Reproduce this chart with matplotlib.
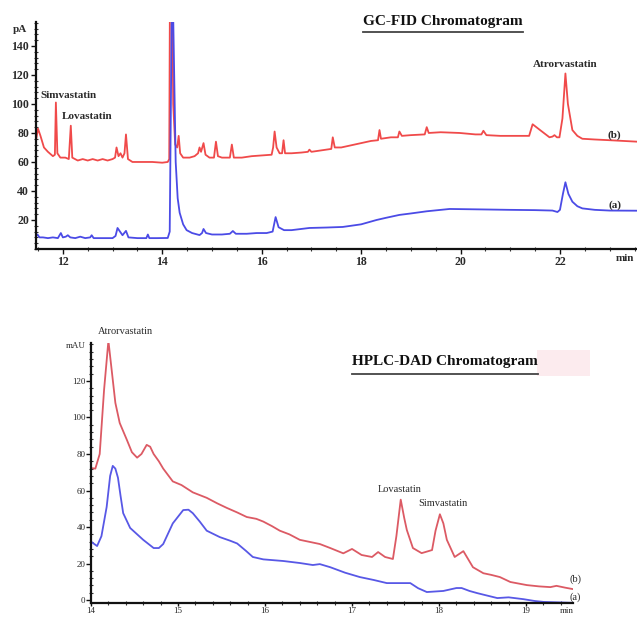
import matplotlib
matplotlib.use("Agg")
import matplotlib.pyplot as plt
from matplotlib.ticker import MultipleLocator
from matplotlib.lines import Line2D
from matplotlib.patches import Rectangle

plt.rcParams['font.family'] = ['Liberation Serif', 'DejaVu Serif']

# ---------------- GC-FID data ----------------
gc_t_b = [11.46, 11.50, 11.55, 11.62, 11.70, 11.80, 11.84, 11.86, 11.89, 11.95, 12.05, 12.12, 12.16, 12.19,
          12.30, 12.40, 12.50, 12.60, 12.70, 12.80, 12.90, 13.00, 13.05, 13.08, 13.12, 13.16, 13.20, 13.24,
          13.27, 13.31, 13.40, 13.60, 13.80, 14.00, 14.11, 14.14, 14.17, 14.22, 14.26, 14.30, 14.33, 14.36,
          14.42, 14.55, 14.65, 14.72, 14.75, 14.78, 14.83, 14.87, 14.95, 15.04, 15.08, 15.12, 15.20, 15.36,
          15.40, 15.44, 15.60, 15.80, 16.00, 16.20, 16.23, 16.26, 16.30, 16.36, 16.41, 16.44, 16.47, 16.60,
          16.80, 16.93, 16.96, 17.00, 17.20, 17.40, 17.43, 17.47, 17.60, 17.80, 18.00, 18.20, 18.34, 18.37,
          18.40, 18.60, 18.74, 18.77, 18.82, 19.00, 19.28, 19.32, 19.36, 19.60, 19.98, 20.30, 20.42, 20.46,
          20.52, 20.80, 21.10, 21.38, 21.45, 21.60, 21.79, 21.85, 21.89, 21.94, 21.99, 22.05, 22.11, 22.16,
          22.25, 22.35, 22.45, 22.70, 23.00, 23.55]
gc_b = [75, 83, 78, 70, 67, 64, 65, 101, 66, 63, 63, 62, 85, 63,
        61, 62, 61, 62, 61, 62, 61, 62, 63, 70, 64, 66, 63, 66,
        79, 62, 60, 60, 60, 59.5, 60, 62, 300, 100, 72, 70, 78, 66,
        63, 63, 64, 66, 70, 67, 73, 65, 63, 63, 74, 64, 63, 63,
        72, 63, 63, 64, 64.5, 65, 70, 81, 70, 66, 66, 75, 66, 66,
        66.5, 67, 68.5, 67, 68, 69, 77, 70, 70, 71.5, 73, 74.5, 75, 82,
        76, 77, 77, 81, 78, 78.5, 79, 84, 80, 80.5, 80, 79, 79, 81.5,
        78.5, 78, 78, 78, 86, 82, 77, 77.5, 78.5, 77, 77, 90, 121, 100,
        82, 78, 76, 75.5, 75, 74]

gc_t_a = [11.46, 11.49, 11.53, 11.60, 11.70, 11.80, 11.90, 11.96, 12.00, 12.06, 12.10, 12.15, 12.25, 12.35,
          12.45, 12.55, 12.58, 12.62, 12.80, 13.00, 13.06, 13.10, 13.15, 13.20, 13.27, 13.32, 13.50, 13.68,
          13.71, 13.74, 13.90, 14.11, 14.15, 14.20, 14.24, 14.27, 14.31, 14.35, 14.42, 14.49, 14.60, 14.75,
          14.80, 14.83, 14.88, 15.00, 15.20, 15.36, 15.42, 15.48, 15.70, 15.90, 16.10, 16.22, 16.28, 16.34,
          16.45, 16.60, 16.96, 17.30, 17.63, 18.00, 18.31, 18.50, 18.77, 19.00, 19.32, 19.78, 20.40, 20.98,
          21.50, 21.85, 21.95, 22.00, 22.06, 22.11, 22.17, 22.25, 22.35, 22.45, 22.70, 23.00, 23.55]
gc_a = [9, 10, 8, 8, 7.5, 8, 7.5, 11, 8, 8.5, 9.5, 8, 7.5, 8.5,
        7.5, 8, 9.5, 7.5, 7.5, 7.5, 9, 14.5, 12, 9.5, 12.5, 8, 7.5, 7.5,
        10, 7.5, 7.5, 7.6, 12, 200, 120, 60, 35, 25, 17, 13, 11, 9.6,
        11, 13.8, 11, 10, 10, 10.5, 12.4, 10.5, 10.5, 11, 11, 12, 22, 15,
        13, 13, 14.5, 14.8, 15.2, 17, 20, 21.5, 23.5, 24.5, 26, 27.6, 27.3, 27,
        26.8, 26.5, 25.5, 27, 38, 46, 38, 32.6, 29.5, 28, 27, 26.5, 26.4]

gc_xticks = [12, 14, 16, 18, 20, 22]
gc_yticks = [20, 40, 60, 80, 100, 120, 140]

# ---------------- HPLC-DAD data ----------------
lc_t_b = [14.00, 14.05, 14.10, 14.15, 14.20, 14.24, 14.28, 14.33, 14.41, 14.47, 14.53, 14.58, 14.64, 14.68,
          14.72, 14.78, 14.83, 14.94, 15.04, 15.17, 15.33, 15.45, 15.56, 15.68, 15.79, 15.90, 15.98, 16.08,
          16.17, 16.28, 16.40, 16.52, 16.63, 16.75, 16.90, 17.00, 17.11, 17.23, 17.30, 17.38, 17.47, 17.51,
          17.56, 17.60, 17.63, 17.70, 17.80, 17.92, 17.96, 18.01, 18.05, 18.09, 18.18, 18.28, 18.39, 18.51,
          18.60, 18.70, 18.82, 19.01, 19.15, 19.28, 19.35, 19.45, 19.54]
lc_b = [72.3, 72, 80, 115, 142, 125, 108, 97, 88, 81, 78, 80, 85, 84,
        80, 76, 72, 65, 63, 59, 56, 53, 50.5, 48, 45.5, 44.5, 43, 40.5,
        38, 36, 33, 31.8, 30.7, 28.5, 25.6, 28, 24.7, 23.6, 26.3, 23.6, 22.5, 35,
        55, 45, 38.4, 28.5, 25.7, 27.4, 38, 47, 42, 33, 23.6, 26.8, 18, 14.7,
        13.8, 12.6, 9.9, 8.2, 7.5, 7.1, 7.8, 6.8, 6.0]

lc_t_a = [14.00, 14.07, 14.12, 14.18, 14.22, 14.25, 14.28, 14.31, 14.34, 14.37, 14.45, 14.60, 14.72, 14.78,
          14.83, 14.94, 15.06, 15.12, 15.17, 15.25, 15.33, 15.48, 15.60, 15.68, 15.78, 15.86, 15.98, 16.21,
          16.40, 16.55, 16.63, 16.75, 16.92, 17.09, 17.25, 17.40, 17.67, 17.76, 17.86, 18.05, 18.20, 18.26,
          18.35, 18.44, 18.55, 18.67, 18.80, 18.97, 19.10, 19.20, 19.54]
lc_a = [32, 29.6, 35, 51, 68, 73.5, 72, 67, 57, 47.6, 39.5, 33, 28.5, 28.5,
        30.7, 42, 49.3, 49.5, 47.6, 43, 38, 34.5, 32.5, 31, 27, 23.6, 22.3, 21.4,
        20.3, 19.2, 19.7, 18, 15, 12.6, 11, 9.3, 9.3, 6.5, 4.4, 5, 6.6, 6.6,
        5, 3.8, 2.5, 1.1, 1.5, 0.5, -0.5, -1, -1.5]

lc_xticks = [14, 15, 16, 17, 18, 19]
lc_yticks = [0, 20, 40, 60, 80, 100, 120]

RED_TOP = '#f04a4a'
BLUE_TOP = '#4b4be6'
RED_BOT = '#dc5a64'
BLUE_BOT = '#5858e6'
TXT = '#2a2a2a'

fig = plt.figure(figsize=(6.37, 6.17), dpi=100)

def style_axes(ax, pad):
    for s in ['top', 'right']:
        ax.spines[s].set_visible(False)
    for s in ['left', 'bottom']:
        ax.spines[s].set_linewidth(1.6)
        ax.spines[s].set_color('#111111')
    ax.tick_params(which='major', direction='out', length=3.5, width=1.0, colors='#111111',
                   labelcolor=TXT, pad=pad)
    ax.tick_params(which='minor', direction='inout', length=3, width=0.8, colors='#333333')
    ax.set_facecolor('none')

# ---------------- Top: GC-FID ----------------
ax1 = fig.add_axes([36/637, 1-249/617, 601/637, (249-22)/617])
ax1.plot(gc_t_b, gc_b, color=RED_TOP, lw=1.3)
ax1.plot(gc_t_a, gc_a, color=BLUE_TOP, lw=1.3)
ax1.set_xlim(11.46, 23.55)
ax1.set_ylim(0, 156.5)
ax1.set_xticks(gc_xticks)
ax1.set_yticks(gc_yticks)
ax1.xaxis.set_minor_locator(MultipleLocator(0.5))
ax1.yaxis.set_minor_locator(MultipleLocator(4))
style_axes(ax1, 1.5)
for lab in ax1.get_xticklabels() + ax1.get_yticklabels():
    lab.set_fontsize(8.5)
    lab.set_fontweight('bold')

tk = dict(fontsize=8, color=TXT, fontweight='bold')
ax1.text(11.55, 102.5, 'Simvastatin', ha='left', va='bottom', **tk)
ax1.text(11.98, 88, 'Lovastatin', ha='left', va='bottom', **tk)
ax1.text(22.1, 124, 'Atrorvastatin', ha='center', va='bottom', **tk)
ax1.text(23.10, 78.5, '(b)', ha='center', va='center', **tk)
ax1.text(23.10, 30.5, '(a)', ha='center', va='center', **tk)
fig.text(20/637, 1-30/617, 'pA', ha='center', va='center', **tk)
fig.text(625/637, 1-258/617, 'min', ha='center', va='center', **tk)

t1 = fig.text(443/637, 1-22/617, 'GC-FID Chromatogram', ha='center', va='center',
              fontsize=11, fontweight='bold', color='#111111')

# ---------------- Bottom: HPLC-DAD ----------------
ax2 = fig.add_axes([91/637, 1-603/617, 482/637, (603-343)/617])
ax2.plot(lc_t_b, lc_b, color=RED_BOT, lw=1.3)
ax2.plot(lc_t_a, lc_a, color=BLUE_BOT, lw=1.3)
ax2.set_xlim(14.0, 19.54)
ax2.set_ylim(-1.6, 140.8)
ax2.set_xticks(lc_xticks)
ax2.set_yticks(lc_yticks)
ax2.xaxis.set_minor_locator(MultipleLocator(0.2))
ax2.yaxis.set_minor_locator(MultipleLocator(4))
style_axes(ax2, 0.5)
ax2.tick_params(axis='x', which='major', length=2.5, pad=0.3)
for lab in ax2.get_xticklabels() + ax2.get_yticklabels():
    lab.set_fontsize(6.5)

bk = dict(fontsize=7.5, color=TXT)
fig.text(125/637, 1-331/617, 'Atrorvastatin', ha='center', va='center', **bk)
fig.text(400/637, 1-489/617, 'Lovastatin', ha='center', va='center', **bk)
fig.text(443/637, 1-504/617, 'Simvastatin', ha='center', va='center', **bk)
fig.text(575/637, 1-579/617, '(b)', ha='center', va='center', **bk)
fig.text(575/637, 1-597/617, '(a)', ha='center', va='center', **bk)
fig.text(76/637, 1-346/617, 'mAU', ha='center', va='center', fontsize=6.5, color=TXT)
fig.text(567/637, 1-611/617, 'min', ha='center', va='center', fontsize=6.5, color=TXT)

fig.add_artist(Rectangle((537/637, 1-376/617), 53/637, 26/617, transform=fig.transFigure,
                         facecolor='#fcebee', edgecolor='none', zorder=0))
t2 = fig.text(445/637, 1-362/617, 'HPLC-DAD Chromatogram', ha='center', va='center',
              fontsize=11, fontweight='bold', color='#111111')

# underline the titles
fig.canvas.draw()
r = fig.canvas.get_renderer()
for t, ypx in [(t1, 32), (t2, 374)]:
    bb = t.get_window_extent(r)
    x0, x1 = bb.x0 / fig.bbox.width, bb.x1 / fig.bbox.width
    y = 1 - ypx / 617
    fig.add_artist(Line2D([x0, x1], [y, y], transform=fig.transFigure, color='#444444', lw=1.3))

fig.savefig('out.png', dpi=100)
